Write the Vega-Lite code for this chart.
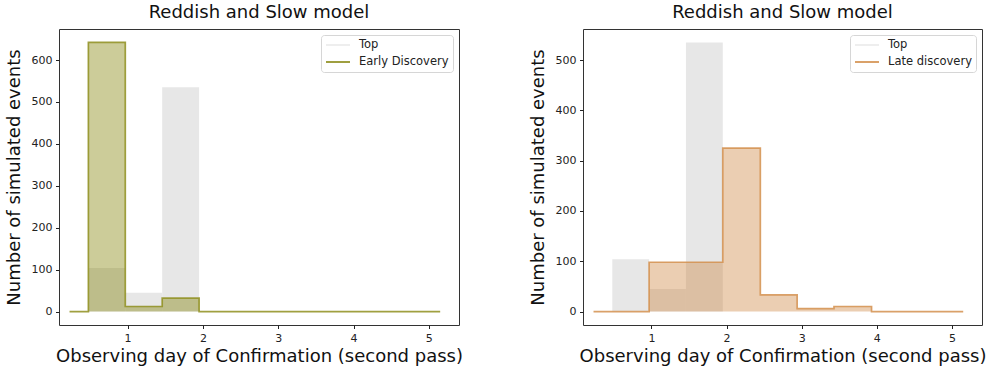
{
  "$schema": "https://vega.github.io/schema/vega-lite/v6.json",
  "padding": {"left": 4, "top": 3, "right": 0, "bottom": 0},
  "background": "white",
  "config": {
    "font": "DejaVu Sans",
    "view": {"stroke": "#333333", "strokeWidth": 1},
    "axis": {"domain": false, "grid": false, "tickColor": "#222222", "tickSize": 3.5, "labelFontSize": 11, "labelColor": "#222222", "titleFontSize": 18, "titleFontWeight": "normal", "titleColor": "#111111", "labelPadding": 3.5, "format": "d"},
    "axisX": {"titlePadding": 4},
    "axisY": {"titlePadding": 8},
    "title": {"fontSize": 18, "fontWeight": "normal", "color": "#111111", "offset": 7},
    "legend": {"orient": "top-right", "offset": 6, "title": null, "symbolType": "M-1,0H3.8", "symbolSize": 100, "symbolStrokeWidth": 2, "labelFontSize": 11.5, "labelColor": "#222222", "strokeColor": "#d6d6d6", "fillColor": "white", "padding": 4, "cornerRadius": 3, "rowPadding": 5, "labelOffset": 22}
  },
  "datasets": {
    "top": [
      {"x0": 0.48, "x1": 0.97, "count": 104},
      {"x0": 0.97, "x1": 1.46, "count": 45},
      {"x0": 1.46, "x1": 1.95, "count": 535}
    ],
    "early": [
      {"day": 0.23, "count": 0, "series": "Early Discovery"},
      {"day": 0.48, "count": 642, "series": "Early Discovery"},
      {"day": 0.97, "count": 12, "series": "Early Discovery"},
      {"day": 1.46, "count": 32, "series": "Early Discovery"},
      {"day": 1.95, "count": 0, "series": "Early Discovery"},
      {"day": 5.15, "count": 0, "series": "Early Discovery"}
    ],
    "late": [
      {"day": 0.23, "count": 0, "series": "Late discovery"},
      {"day": 0.97, "count": 98, "series": "Late discovery"},
      {"day": 1.46, "count": 98, "series": "Late discovery"},
      {"day": 1.95, "count": 325, "series": "Late discovery"},
      {"day": 2.45, "count": 33, "series": "Late discovery"},
      {"day": 2.94, "count": 6, "series": "Late discovery"},
      {"day": 3.43, "count": 10, "series": "Late discovery"},
      {"day": 3.93, "count": 0, "series": "Late discovery"},
      {"day": 5.15, "count": 0, "series": "Late discovery"}
    ]
  },
  "spacing": 65,
  "resolve": {"scale": {"color": "independent", "x": "independent", "y": "independent"}, "legend": {"color": "independent"}},
  "hconcat": [
    {
      "width": 400,
      "height": 296,
      "title": "Reddish and Slow model",
      "layer": [
        {
          "data": {"name": "top"},
          "mark": {"type": "rect", "color": "#e7e7e7"},
          "encoding": {
            "x": {"field": "x0", "type": "quantitative", "scale": {"domain": [0.09, 5.4], "nice": false, "zero": false}, "axis": {"values": [1, 2, 3, 4, 5], "title": "Observing day of Confirmation (second pass)"}},
            "x2": {"field": "x1"},
            "y": {"field": "count", "type": "quantitative", "scale": {"domain": [-32.1, 674.1], "nice": false, "zero": false}, "axis": {"values": [0, 100, 200, 300, 400, 500, 600], "title": "Number of simulated events"}},
            "y2": {"datum": 0}
          }
        },
        {
          "data": {"name": "early"},
          "mark": {"type": "area", "interpolate": "step-after", "color": "#808000", "fillOpacity": 0.4},
          "encoding": {
            "x": {"field": "day", "type": "quantitative"},
            "y": {"field": "count", "type": "quantitative"},
            "y2": {"datum": 0}
          }
        },
        {
          "data": {"name": "early"},
          "mark": {"type": "line", "interpolate": "step-after", "strokeWidth": 1.7, "opacity": 0.85},
          "encoding": {
            "x": {"field": "day", "type": "quantitative"},
            "y": {"field": "count", "type": "quantitative"},
            "color": {"field": "series", "type": "nominal", "scale": {"domain": ["Top", "Early Discovery"], "range": ["#ececec", "#8f8f1f"]}, "legend": {}}
          }
        }
      ]
    },
    {
      "width": 399,
      "height": 296,
      "title": "Reddish and Slow model",
      "layer": [
        {
          "data": {"name": "top"},
          "mark": {"type": "rect", "color": "#e7e7e7"},
          "encoding": {
            "x": {"field": "x0", "type": "quantitative", "scale": {"domain": [0.09, 5.4], "nice": false, "zero": false}, "axis": {"values": [1, 2, 3, 4, 5], "title": "Observing day of Confirmation (second pass)"}},
            "x2": {"field": "x1"},
            "y": {"field": "count", "type": "quantitative", "scale": {"domain": [-26.75, 561.75], "nice": false, "zero": false}, "axis": {"values": [0, 100, 200, 300, 400, 500], "title": "Number of simulated events"}},
            "y2": {"datum": 0}
          }
        },
        {
          "data": {"name": "late"},
          "mark": {"type": "area", "interpolate": "step-after", "color": "#cd853f", "fillOpacity": 0.4},
          "encoding": {
            "x": {"field": "day", "type": "quantitative"},
            "y": {"field": "count", "type": "quantitative"},
            "y2": {"datum": 0}
          }
        },
        {
          "data": {"name": "late"},
          "mark": {"type": "line", "interpolate": "step-after", "strokeWidth": 1.7, "opacity": 0.85},
          "encoding": {
            "x": {"field": "day", "type": "quantitative"},
            "y": {"field": "count", "type": "quantitative"},
            "color": {"field": "series", "type": "nominal", "scale": {"domain": ["Top", "Late discovery"], "range": ["#ececec", "#d4914f"]}, "legend": {}}
          }
        }
      ]
    }
  ]
}
